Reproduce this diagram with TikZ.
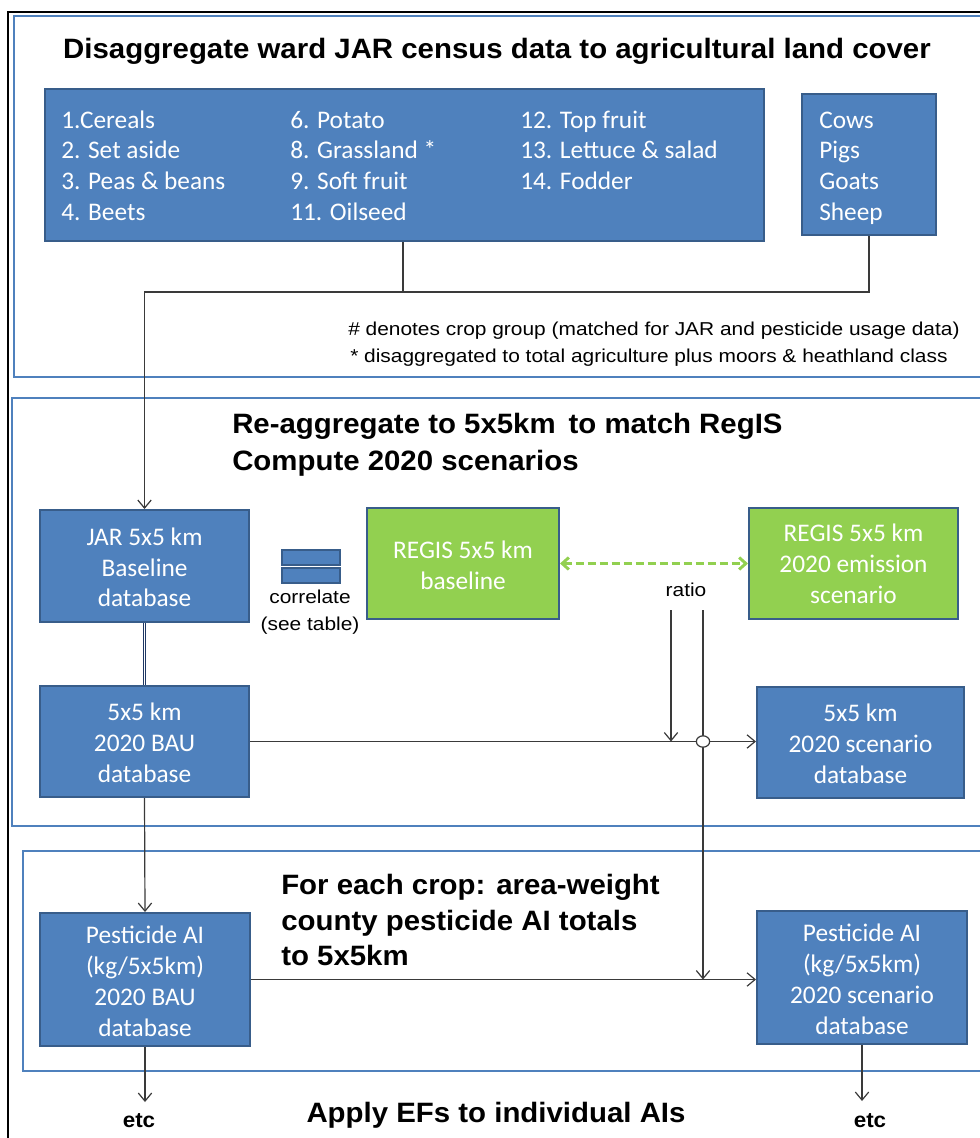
\documentclass[tikz,border=0pt]{standalone}
\usepackage{fontspec}
\setmainfont{Liberation Sans}
\newfontfamily\boxfont{Carlito}
\newfontfamily\tfont{Liberation Sans}[FakeStretch=1.05]
\newfontfamily\nfont{Liberation Sans}[FakeStretch=1.12]
\usetikzlibrary{fit,arrows.meta,shapes.geometric}
\definecolor{ofblue}{HTML}{4F81BD}
\definecolor{ofdark}{HTML}{385D8A}
\definecolor{ofgreen}{HTML}{92D050}
\definecolor{navy}{HTML}{1F3864}
\definecolor{lineg}{HTML}{3A3A3A}
\begin{document}
\begin{tikzpicture}[x=0.75pt,y=-0.75pt,
  frame/.style={draw=ofblue,line width=2.2pt},
  bbox/.style={fill=ofblue,draw=ofdark,line width=1.5pt,inner sep=0pt},
  gbox/.style={bbox,fill=ofgreen},
  btext/.style={font=\boxfont\fontsize{19}{23.2}\selectfont,text=white,align=center,inner sep=0pt},
  conn/.style={draw=lineg,line width=0.9pt},
  arr/.style={conn,-{Straight Barb[length=6pt,width=10pt]}},
  title/.style={font=\tfont\bfseries\fontsize{21}{27}\selectfont,anchor=base west,inner sep=0pt},
  item/.style={font=\boxfont\fontsize{19}{23}\selectfont,text=white,anchor=base west,inner sep=0pt},
  note/.style={font=\nfont\fontsize{14}{16}\selectfont,anchor=base west,inner sep=0pt},
  small/.style={font=\nfont\fontsize{14}{16}\selectfont,anchor=base,inner sep=0pt},
  etc/.style={font=\tfont\bfseries\fontsize{16}{18}\selectfont,anchor=base,inner sep=0pt},
  circ/.style={draw=lineg,line width=0.9pt,fill=white,ellipse,minimum width=10pt,minimum height=8.5pt,inner sep=0pt},
]
\clip (0,0) rectangle (980,1138);
\fill[white] (0,0) rectangle (980,1138);
% section frames
\draw[frame] (14,16) rectangle (1000,377);
\draw[frame] (12,398) rectangle (1000,826);
\draw[frame] (23,851) rectangle (1000,1071);
\draw[black,line width=1.2pt] (8,1150) -- (8,12) -- (1000,12);

% section 1
\node[title,anchor=base] (t1) at (497,59) {Disaggregate ward JAR census data to agricultural land cover};
\node[bbox,fit={(45,89)(764,241)}] (crops) {};
\node[bbox,fit={(802,94)(936,235)}] (animals) {};
\foreach \t [count=\i from 0] in {1.Cereals, 2. Set aside, 3. Peas \& beans, 4. Beets}
  \node[item] (ca\i) at (61,128+30.7*\i) {\t};
\foreach \t [count=\i from 0] in {6. Potato, 8. Grassland *, 9. Soft fruit, 11. Oilseed}
  \node[item] (cb\i) at (290,128+30.7*\i) {\t};
\foreach \t [count=\i from 0] in {12. Top fruit, 13. Lettuce \& salad, 14. Fodder}
  \node[item] (cc\i) at (520,128+30.7*\i) {\t};
\foreach \t [count=\i from 0] in {Cows, Pigs, Goats, Sheep}
  \node[item] (an\i) at (819,128+30.7*\i) {\t};
\coordinate (j1) at (403,292);
\node[note] (n1) at (348,335) {\# denotes crop group (matched for JAR and pesticide usage data)};
\node[note] (n2) at (350,362) {* disaggregated to total agriculture plus moors \& heathland class};

% section 2
\node[title] (t2a) at (232,433) {Re-aggregate to 5x5km\, to match RegIS};
\node[title] (t2b) at (232,470) {Compute 2020 scenarios};
\node[bbox,fit={(40,510)(249,622)}] (jar) {};
\node[btext] (jart) at ([yshift=-1pt]jar.center) {JAR 5x5 km\\Baseline\\database};
\node[bbox,line width=1pt,fit={(282,550)(340,565)}] (eq1) {};
\node[bbox,line width=1pt,fit={(282,568)(340,583)}] (eq2) {};
\node[small] (corr) at (310,603) {correlate};
\node[small] (see) at (310,630) {(see table)};
\node[gbox,fit={(367,508)(559,619)}] (rb) {};
\node[btext] (rbt) at ([yshift=-1pt]rb.center) {REGIS 5x5 km\\baseline};
\node[gbox,fit={(749,508)(958,619)}] (r20) {};
\node[btext] (r20t) at ([yshift=-0.5pt]r20.center) {REGIS 5x5 km\\2020 emission\\scenario};
\node[small] (ratio) at (686,596) {ratio};
\coordinate (ra) at (671,610);
\coordinate (rc) at (703,610);
\node[bbox,fit={(40,686)(249,797)}] (bau) {};
\node[btext] (baut) at ([yshift=-1pt]bau.center) {5x5 km\\2020 BAU\\database};
\node[bbox,fit={(757,687)(964,798)}] (scen) {};
\node[btext] (scent) at ([yshift=-1pt]scen.center) {5x5 km\\2020 scenario\\database};

% section 3
\node[title] (t3a) at (281,894) {For each crop: area-weight};
\node[title] (t3b) at (281,930) {county pesticide AI totals};
\node[title] (t3c) at (281,965) {to 5x5km};
\node[bbox,fit={(40,913)(250,1046)}] (pbau) {};
\node[btext] (pbaut) at ([yshift=-1.5pt]pbau.center) {Pesticide AI\\(kg/5x5km)\\2020 BAU\\database};
\node[bbox,fit={(757,911)(967,1044)}] (pscen) {};
\node[btext] (pscent) at ([yshift=-1.5pt]pscen.center) {Pesticide AI\\(kg/5x5km)\\2020 scenario\\database};
\node[etc] (etc1) at (139,1127) {etc};
\node[etc] (etc2) at (870,1127) {etc};
\node[title,anchor=base] (t4) at (496,1122) {Apply EFs to individual AIs};
\coordinate (e1) at (145,1102);
\coordinate (e2) at (862,1101);

% connectors
\draw[arr] (crops.south -| j1) -- (j1) -| (jar.north);
\draw[conn] (animals.south) |- (j1);
\draw[draw=navy,line width=0.8pt,double=white,double distance=1.3pt] (jar.south) -- (bau.north);
\draw[ofgreen,line width=2.2pt,dash pattern=on 6pt off 3pt,
  {Straight Barb[length=5pt,width=9pt]}-{Straight Barb[length=5pt,width=9pt]}] (rb.east) -- (r20.west);
\draw[arr] (bau.east) -- (scen.west |- bau.east);
\draw[arr] (ra) -- (ra |- bau.east);
\draw[arr] (rc) -- (rc |- pbau.east);
\node[circ] (mix) at (rc |- bau.east) {};
\draw[arr] (bau.south) -- (pbau.north);
\draw[arr] (pbau.east) -- (pscen.west |- pbau.east);
\draw[arr] (pbau.south -| e1) -- (e1);
\draw[arr] (pscen.south -| e2) -- (e2);
\end{tikzpicture}
\end{document}
